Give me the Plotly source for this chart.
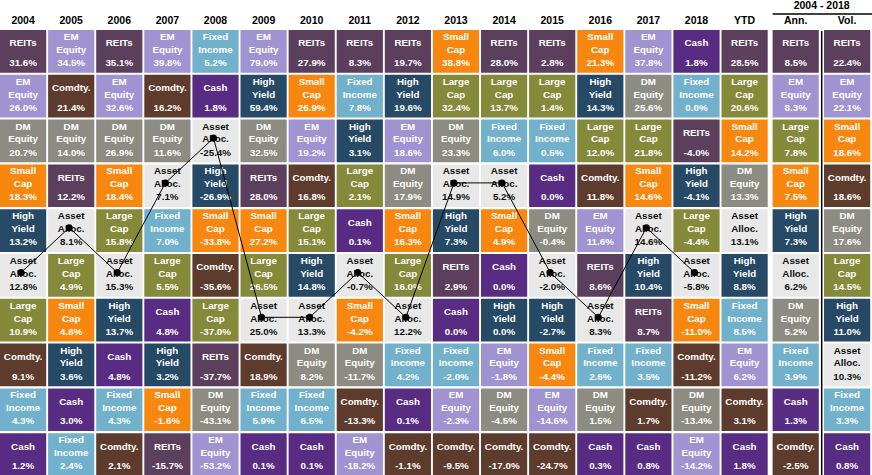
import plotly.graph_objects as go

# column headers
periods = ["2004", "2005", "2006", "2007", "2008", "2009", "2010", "2011",
           "2012", "2013", "2014", "2015", "2016", "2017", "2018", "YTD",
           "Ann.", "Vol."]

# asset classes ranked top to bottom for each column
col_2004 = ["REITs", "EM Equity", "DM Equity", "Small Cap", "High Yield", "Asset Alloc.", "Large Cap", "Comdty.", "Fixed Income", "Cash"]
val_2004 = [31.6, 26.0, 20.7, 18.3, 13.2, 12.8, 10.9, 9.1, 4.3, 1.2]
col_2005 = ["EM Equity", "Comdty.", "DM Equity", "REITs", "Asset Alloc.", "Large Cap", "Small Cap", "High Yield", "Cash", "Fixed Income"]
val_2005 = [34.5, 21.4, 14.0, 12.2, 8.1, 4.9, 4.6, 3.6, 3.0, 2.4]
col_2006 = ["REITs", "EM Equity", "DM Equity", "Small Cap", "Large Cap", "Asset Alloc.", "High Yield", "Cash", "Fixed Income", "Comdty."]
val_2006 = [35.1, 32.6, 26.9, 18.4, 15.8, 15.3, 13.7, 4.8, 4.3, 2.1]
col_2007 = ["EM Equity", "Comdty.", "DM Equity", "Asset Alloc.", "Fixed Income", "Large Cap", "Cash", "High Yield", "Small Cap", "REITs"]
val_2007 = [39.8, 16.2, 11.6, 7.1, 7.0, 5.5, 4.8, 3.2, -1.6, -15.7]
col_2008 = ["Fixed Income", "Cash", "Asset Alloc.", "High Yield", "Small Cap", "Comdty.", "Large Cap", "REITs", "DM Equity", "EM Equity"]
val_2008 = [5.2, 1.8, -25.4, -26.9, -33.8, -35.6, -37.0, -37.7, -43.1, -53.2]
col_2009 = ["EM Equity", "High Yield", "DM Equity", "REITs", "Small Cap", "Large Cap", "Asset Alloc.", "Comdty.", "Fixed Income", "Cash"]
val_2009 = [79.0, 59.4, 32.5, 28.0, 27.2, 26.5, 25.0, 18.9, 5.9, 0.1]
col_2010 = ["REITs", "Small Cap", "EM Equity", "Comdty.", "Large Cap", "High Yield", "Asset Alloc.", "DM Equity", "Fixed Income", "Cash"]
val_2010 = [27.9, 26.9, 19.2, 16.8, 15.1, 14.8, 13.3, 8.2, 6.5, 0.1]
col_2011 = ["REITs", "Fixed Income", "High Yield", "Large Cap", "Cash", "Asset Alloc.", "Small Cap", "DM Equity", "Comdty.", "EM Equity"]
val_2011 = [8.3, 7.8, 3.1, 2.1, 0.1, -0.7, -4.2, -11.7, -13.3, -18.2]
col_2012 = ["REITs", "High Yield", "EM Equity", "DM Equity", "Small Cap", "Large Cap", "Asset Alloc.", "Fixed Income", "Cash", "Comdty."]
val_2012 = [19.7, 19.6, 18.6, 17.9, 16.3, 16.0, 12.2, 4.2, 0.1, -1.1]
col_2013 = ["Small Cap", "Large Cap", "DM Equity", "Asset Alloc.", "High Yield", "REITs", "Cash", "Fixed Income", "EM Equity", "Comdty."]
val_2013 = [38.8, 32.4, 23.3, 14.9, 7.3, 2.9, 0.0, -2.0, -2.3, -9.5]
col_2014 = ["REITs", "Large Cap", "Fixed Income", "Asset Alloc.", "Small Cap", "Cash", "High Yield", "EM Equity", "DM Equity", "Comdty."]
val_2014 = [28.0, 13.7, 6.0, 5.2, 4.9, 0.0, 0.0, -1.8, -4.5, -17.0]
col_2015 = ["REITs", "Large Cap", "Fixed Income", "Cash", "DM Equity", "Asset Alloc.", "High Yield", "Small Cap", "EM Equity", "Comdty."]
val_2015 = [2.8, 1.4, 0.5, 0.0, -0.4, -2.0, -2.7, -4.4, -14.6, -24.7]
col_2016 = ["Small Cap", "High Yield", "Large Cap", "Comdty.", "EM Equity", "REITs", "Asset Alloc.", "Fixed Income", "DM Equity", "Cash"]
val_2016 = [21.3, 14.3, 12.0, 11.8, 11.6, 8.6, 8.3, 2.6, 1.5, 0.3]
col_2017 = ["EM Equity", "DM Equity", "Large Cap", "Small Cap", "Asset Alloc.", "High Yield", "REITs", "Fixed Income", "Comdty.", "Cash"]
val_2017 = [37.8, 25.6, 21.8, 14.6, 14.6, 10.4, 8.7, 3.5, 1.7, 0.8]
col_2018 = ["Cash", "Fixed Income", "REITs", "High Yield", "Large Cap", "Asset Alloc.", "Small Cap", "Comdty.", "DM Equity", "EM Equity"]
val_2018 = [1.8, 0.0, -4.0, -4.1, -4.4, -5.8, -11.0, -11.2, -13.4, -14.2]
col_ytd = ["REITs", "Large Cap", "Small Cap", "DM Equity", "Asset Alloc.", "High Yield", "Fixed Income", "EM Equity", "Comdty.", "Cash"]
val_ytd = [28.5, 20.6, 14.2, 13.3, 13.1, 8.8, 8.5, 6.2, 3.1, 1.8]
col_ann = ["REITs", "EM Equity", "Large Cap", "Small Cap", "High Yield", "Asset Alloc.", "DM Equity", "Fixed Income", "Cash", "Comdty."]
val_ann = [8.5, 8.3, 7.8, 7.5, 7.3, 6.2, 5.2, 3.9, 1.3, -2.5]
col_vol = ["REITs", "EM Equity", "Small Cap", "Comdty.", "DM Equity", "Large Cap", "High Yield", "Asset Alloc.", "Fixed Income", "Cash"]
val_vol = [22.4, 22.1, 18.6, 18.6, 17.6, 14.5, 11.0, 10.3, 3.3, 0.8]

columns = [col_2004, col_2005, col_2006, col_2007, col_2008, col_2009, col_2010,
           col_2011, col_2012, col_2013, col_2014, col_2015, col_2016, col_2017,
           col_2018, col_ytd, col_ann, col_vol]
values = [val_2004, val_2005, val_2006, val_2007, val_2008, val_2009, val_2010,
          val_2011, val_2012, val_2013, val_2014, val_2015, val_2016, val_2017,
          val_2018, val_ytd, val_ann, val_vol]

# cell styling
fill = {
    "REITs": "#5b3f5d",
    "EM Equity": "#a093d2",
    "DM Equity": "#8c8c82",
    "Small Cap": "#f7870f",
    "High Yield": "#264a66",
    "Large Cap": "#858a3a",
    "Comdty.": "#5e3c2d",
    "Fixed Income": "#72b1cc",
    "Cash": "#582c83",
    "Asset Alloc.": "#e8e8e8",
}
label_text = {
    "REITs": "REITs", "EM Equity": "EM<br>Equity", "DM Equity": "DM<br>Equity",
    "Small Cap": "Small<br>Cap", "High Yield": "High<br>Yield", "Large Cap": "Large<br>Cap",
    "Comdty.": "Comdty.", "Fixed Income": "Fixed<br>Income", "Cash": "Cash",
    "Asset Alloc.": "Asset<br>Alloc.",
}

# grid geometry (pixels)
pitch = 48.1
cell_w = 46.2
row_top0 = 30
row_pitch = 44.8
cell_h = 42.7
lefts = [i * pitch for i in range(16)] + [772.6, 824.0]

fig = go.Figure()
shapes = []
lx, ly, ltxt, lcol = [], [], [], []
vx, vy, vtxt, vcol = [], [], [], []
for c, (names, vals) in enumerate(zip(columns, values)):
    x0 = lefts[c]
    cx = x0 + cell_w / 2
    for r, (nm, v) in enumerate(zip(names, vals)):
        y0 = row_top0 + r * row_pitch
        shapes.append(dict(type="rect", xref="x", yref="y", x0=x0, x1=x0 + cell_w,
                           y0=y0, y1=y0 + cell_h, fillcolor=fill[nm],
                           line=dict(width=0), layer="below"))
        tc = "#111111" if nm == "Asset Alloc." else "white"
        lx.append(cx)
        ly.append(y0 + 14)
        ltxt.append(label_text[nm])
        lcol.append(tc)
        vx.append(cx)
        vy.append(y0 + 33.5)
        vtxt.append(f"{v:.1f}%")
        vcol.append(tc)

cell_font = dict(family="Liberation Sans, Arial", size=9.8, weight="bold")
fig.add_trace(go.Scatter(x=lx, y=ly, text=ltxt, mode="text", hoverinfo="skip",
                         textfont=dict(cell_font, color=lcol), textposition="middle center"))
fig.add_trace(go.Scatter(x=vx, y=vy, text=vtxt, mode="text", hoverinfo="skip",
                         textfont=dict(cell_font, color=vcol), textposition="middle center"))

# asset allocation path through the yearly columns
px, py = [], []
for c in range(15):
    r = columns[c].index("Asset Alloc.")
    px.append(lefts[c] + cell_w / 2 - 2)
    py.append(row_top0 + r * row_pitch + 18.5)
fig.add_trace(go.Scatter(x=px, y=py, mode="lines+markers", hoverinfo="skip",
                         line=dict(color="black", width=1),
                         marker=dict(color="black", size=7)))

# headers
fig.add_trace(go.Scatter(x=[l + cell_w / 2 for l in lefts], y=[21.7] * len(lefts),
                         text=periods, mode="text", hoverinfo="skip",
                         textfont=dict(family="Liberation Sans, Arial", size=10.5,
                                       weight="bold", color="black")))
fig.add_trace(go.Scatter(x=[821.7], y=[6.5], text=["2004 - 2018"], mode="text",
                         hoverinfo="skip",
                         textfont=dict(family="Liberation Sans, Arial", size=10.5,
                                       weight="bold", color="black")))
shapes.append(dict(type="line", xref="x", yref="y", x0=772.6, x1=872, y0=14, y1=14,
                   line=dict(color="black", width=1.5)))
shapes.append(dict(type="line", xref="x", yref="y", x0=821.7, x1=821.7, y0=31, y1=475,
                   line=dict(color="black", width=1.5)))

fig.update_layout(
    width=872, height=475,
    margin=dict(l=0, r=0, t=0, b=0),
    paper_bgcolor="white", plot_bgcolor="white",
    showlegend=False,
    shapes=shapes,
    xaxis=dict(range=[0, 872], visible=False, fixedrange=True),
    yaxis=dict(range=[475, 0], visible=False, fixedrange=True),
)

fig.write_html("out.html", config={"displayModeBar": False},
               post_script="document.body.style.margin='0px';")
